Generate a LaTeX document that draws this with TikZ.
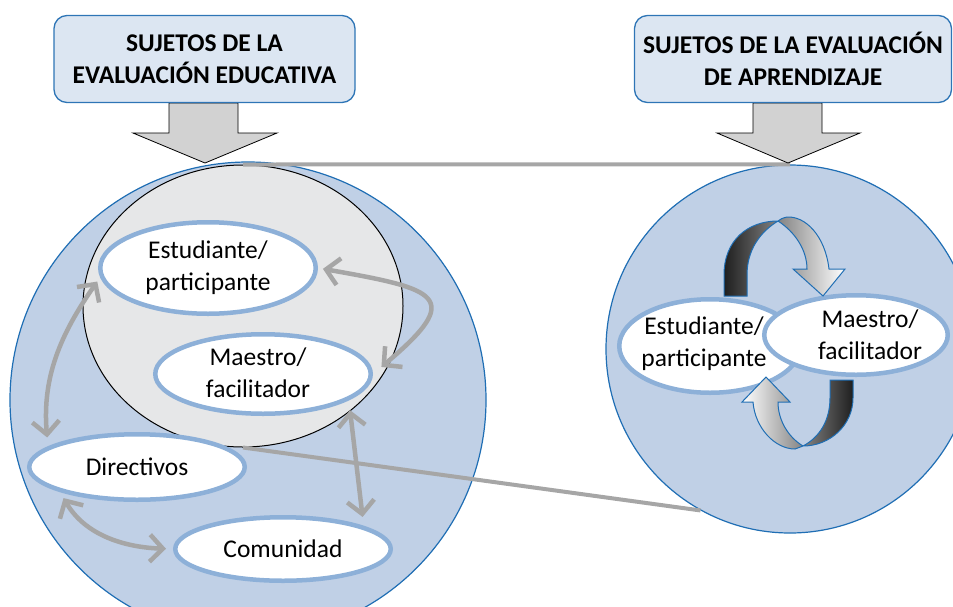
\documentclass[tikz,border=0pt]{standalone}
\usepackage{fontspec}
\setmainfont{Carlito}
\usetikzlibrary{shapes.geometric,arrows.meta,calc}
\definecolor{hfill}{RGB}{220,230,242}
\definecolor{hblue}{RGB}{46,117,182}
\definecolor{cfill}{RGB}{192,208,230}
\definecolor{cblue}{RGB}{31,110,180}
\definecolor{ifill}{RGB}{230,231,232}
\definecolor{eblue}{RGB}{141,176,216}
\definecolor{cgrey}{RGB}{166,166,166}
\definecolor{afill}{RGB}{210,210,210}
\begin{document}
\begin{tikzpicture}[x=1pt,y=-1pt,
  headbox/.style={draw=hblue, line width=1.3pt, fill=hfill, rounded corners=13pt, align=center, font=\fontsize{25.5}{32}\selectfont\bfseries, inner sep=0pt},
  bigcircle/.style={circle, draw=cblue, line width=1.2pt, fill=cfill, inner sep=0pt},
  innercircle/.style={ellipse, draw=black, line width=1pt, fill=ifill, inner sep=0pt},
  oval/.style={ellipse, draw=eblue, line width=4.5pt, fill=white, inner sep=0pt, align=center, font=\fontsize{25.5}{32}\selectfont},
  otext/.style={align=center, font=\fontsize{25.5}{32}\selectfont, inner sep=0pt},
  conn/.style={draw=cgrey, line width=4.5pt, {Straight Barb[length=13pt,width=27pt]}-{Straight Barb[length=13pt,width=27pt]}},
  gline/.style={draw=cgrey, line width=4pt},
  bigarrow/.style={draw=black, line width=0.8pt, fill=afill},
  turnA/.style={draw=cblue, line width=1pt, left color=black!88, right color=white},
  turnB/.style={draw=cblue, line width=1pt, left color=white, right color=black!88},
]
\useasboundingbox (0,0) rectangle (953,606);
\clip (0,0) rectangle (953,606);
% big circles
\node[bigcircle, minimum size=476pt] (lc) at (248,400) {};
\node[bigcircle, minimum size=368pt] (rc) at (790,349) {};
\node[innercircle, minimum width=320pt, minimum height=282pt] (inner) at (243,306) {};
% grey link lines
\draw[gline] (inner.north) -- (rc.north);
\draw[gline] (inner.south) -- (rc.241);
% big down arrows
\draw[bigarrow] (169,103) -- (238,103) -- (238,133) -- (277,133) -- (205,163) -- (133,133) -- (169,133) -- cycle;
\draw[bigarrow] (753,103) -- (822,103) -- (822,133) -- (860,133) -- (788,163) -- (717,133) -- (753,133) -- cycle;
% heading boxes
\node[headbox, minimum width=301pt, minimum height=87pt] (hL) at (204.5,59) {SUJETOS DE LA\\EVALUACIÓN EDUCATIVA};
\node[headbox, minimum width=317pt, minimum height=87pt] (hR) at (793,59) {SUJETOS DE LA EVALUACIÓN\\DE APRENDIZAJE};
% left ovals
\node[oval, minimum width=215.5pt, minimum height=91.5pt] (estL) at (208,268) {Estudiante/\\participante};
\node[oval, minimum width=215.5pt, minimum height=79.5pt] (maeL) at (263,374) {};
\node[otext] (maeLt) at (258,373) {Maestro/\\facilitador};
\node[oval, minimum width=215.5pt, minimum height=65.5pt] (dirL) at (137,467) {Directivos};
\node[oval, minimum width=215.5pt, minimum height=63.5pt] (comL) at (283,549) {Comunidad};
% left connectors
\draw[conn, shorten <=9pt, shorten >=5pt] (dirL.167) to[out=95,in=235] (estL.185);
\draw[conn, shorten <=5pt, shorten >=11pt] (estL.east) to[out=-10,in=40,looseness=2.6] (maeL.east);
\draw[conn, shorten <=10pt, shorten >=9pt] (maeL.-17) -- (comL.16);
\draw[conn, shorten <=7pt, shorten >=7pt] (dirL.198) to[out=-60,in=178] (comL.west);
% right ovals
\node[oval, minimum width=181.5pt, minimum height=93.5pt] (estR) at (710,346) {};
\node[oval, minimum width=183.5pt, minimum height=79.5pt] (maeR) at (856,335) {};
% turning arrows
\draw[turnA] (724,296) -- (724,275) .. controls (724,240) and (748,221) .. (778,221)
  .. controls (795,232) and (807,250) .. (807,269) -- (793,269) -- (823,296) -- (845,269) -- (829,269)
  .. controls (825,235) and (805,216) .. (787,217) .. controls (783,218) and (780,219) .. (778,221)
  .. controls (760,232) and (747,250) .. (747,275) -- (747,296) -- cycle;
\draw[turnB] (853,380) -- (853,398) .. controls (853,425) and (830,446) .. (803,446)
  .. controls (788,437) and (778,420) .. (778,402) -- (790,402) -- (766,377) -- (742,402) -- (753,402)
  .. controls (755,428) and (775,449) .. (795,449) .. controls (798,448) and (800,447) .. (803,446)
  .. controls (820,437) and (830,420) .. (830,398) -- (830,380) -- cycle;
% right texts
\node[otext] (estRt) at (704,344) {Estudiante/\\participante};
\node[otext] (maeRt) at (870,335) {Maestro/\\facilitador};
\end{tikzpicture}
\end{document}
